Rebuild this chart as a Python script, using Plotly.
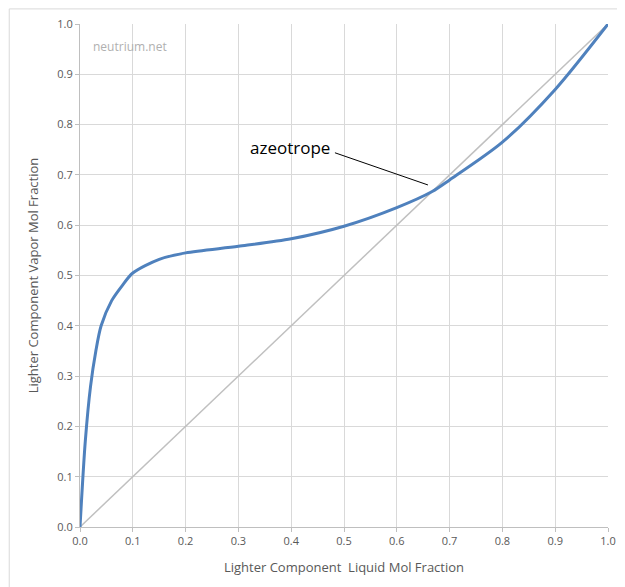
import plotly.graph_objects as go

liquid = [0, 0.01, 0.02, 0.03, 0.04, 0.06, 0.08, 0.1, 0.15, 0.2, 0.3, 0.4, 0.5, 0.6, 0.667, 0.7, 0.8, 0.9, 1.0]
vapor = [0, 0.17, 0.28, 0.35, 0.40, 0.45, 0.48, 0.505, 0.532, 0.545, 0.558, 0.573, 0.598, 0.635, 0.667, 0.69, 0.765, 0.87, 1.0]
diag = [0, 1]

fig = go.Figure()
fig.add_trace(go.Scatter(x=diag, y=diag, mode="lines", line=dict(color="#c0c0c0", width=1.5), hoverinfo="skip"))
fig.add_trace(go.Scatter(x=liquid, y=vapor, mode="lines", line=dict(color="#4f81bd", width=3, shape="spline", smoothing=0.8)))

fig.add_annotation(x=0.659, y=0.68, ax=0.48, ay=0.745, axref="x", ayref="y",
                   text="", showarrow=True, arrowhead=0, arrowwidth=1, arrowcolor="black")
fig.add_annotation(x=0.398, y=0.755, text="azeotrope", showarrow=False,
                   font=dict(size=17, color="black", family="Open Sans"))
fig.add_annotation(x=0.02, y=0.955, text="neutrium.net", showarrow=False, xanchor="left",
                   font=dict(size=12, color="#b0b0b0", family="Open Sans"))

ax = dict(range=[0, 1], dtick=0.1, tickformat=".1f", showgrid=True, gridcolor="#d9d9d9",
          zeroline=False, showline=True, linecolor="#bfbfbf", ticks="outside", ticklen=4,
          tickcolor="#bfbfbf", tickfont=dict(size=11, color="#595959"), mirror=False)
fig.update_xaxes(**ax, title=dict(text="Lighter Component  Liquid Mol Fraction", font=dict(size=13, color="#595959")))
fig.update_yaxes(**ax, title=dict(text="Lighter Component Vapor Mol Fraction", font=dict(size=13, color="#595959")))
fig.update_layout(width=625, height=587, margin=dict(l=72, r=25, t=16, b=68, autoexpand=False), showlegend=False,
                  plot_bgcolor="white", paper_bgcolor="white", font=dict(family="Open Sans"),
                  shapes=[dict(type="rect", xref="paper", yref="paper", x0=-0.134, y0=-0.13, x1=1.045, y1=1.03,
                               line=dict(color="#d9d9d9", width=1))])
fig.write_html("out.html")
